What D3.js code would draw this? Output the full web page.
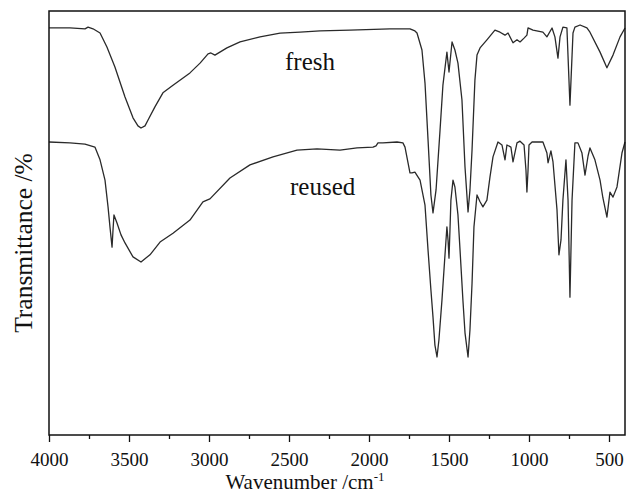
<!DOCTYPE html>
<html>
<head>
<meta charset="utf-8">
<script src="https://cdn.jsdelivr.net/npm/d3@7"></script>
<style>
  body { margin: 0; background: #fff; }
  svg text { font-family: "Liberation Serif", "Times New Roman", serif; fill: #111; }
</style>
</head>
<body>
<div id="chart"></div>
<script>
// wavenumbers (cm-1) and transmittance (arbitrary %)
const freshWn = [4000, 3869, 3775, 3756, 3725, 3681, 3638, 3588, 3525, 3475, 3444, 3425, 3400, 3381, 3338, 3288, 3225, 3119, 3056, 3006, 2988, 2963, 2888, 2806, 2681, 2556, 2431, 2306, 2119, 1869, 1744, 1713, 1700, 1669, 1650, 1631, 1613, 1600, 1581, 1556, 1538, 1513, 1500, 1481, 1463, 1444, 1419, 1400, 1381, 1369, 1356, 1338, 1325, 1306, 1263, 1213, 1181, 1150, 1131, 1100, 1075, 1056, 1031, 1013, 1006, 975, 913, 888, 856, 838, 819, 806, 788, 763, 744, 725, 713, 681, 638, 619, 556, 513, 475, 431, 400];
const freshT = [96.0, 96.0, 95.8, 96.2, 95.8, 94.8, 91.5, 86.8, 79.7, 74.8, 72.9, 72.4, 72.9, 74.3, 77.4, 80.7, 82.5, 85.4, 87.7, 89.9, 90.1, 89.6, 91.3, 92.7, 93.9, 94.8, 95.0, 95.3, 95.5, 95.8, 95.8, 95.3, 94.8, 90.8, 83.0, 69.6, 56.6, 52.4, 57.8, 71.9, 82.5, 90.3, 85.6, 92.7, 90.8, 87.7, 79.0, 63.2, 52.6, 57.8, 67.2, 83.7, 89.6, 91.3, 93.2, 95.5, 95.0, 94.3, 94.8, 92.5, 93.2, 92.7, 93.6, 94.3, 96.0, 95.5, 95.0, 93.9, 96.0, 93.9, 88.9, 93.9, 96.2, 96.0, 77.8, 94.8, 96.2, 96.7, 96.0, 95.0, 90.3, 86.6, 89.6, 93.9, 96.0];

const reusedWn = [4000, 3869, 3775, 3713, 3681, 3650, 3631, 3619, 3606, 3600, 3594, 3575, 3550, 3525, 3475, 3425, 3369, 3306, 3225, 3119, 3038, 3013, 2994, 2869, 2744, 2600, 2450, 2325, 2181, 2075, 1975, 1956, 1944, 1913, 1825, 1788, 1775, 1756, 1744, 1731, 1713, 1681, 1650, 1631, 1613, 1600, 1588, 1575, 1563, 1544, 1525, 1513, 1506, 1500, 1494, 1488, 1475, 1463, 1444, 1431, 1413, 1400, 1381, 1369, 1356, 1344, 1325, 1306, 1288, 1263, 1244, 1225, 1194, 1169, 1150, 1138, 1113, 1100, 1075, 1056, 1031, 1019, 1013, 1006, 1000, 981, 913, 888, 881, 863, 850, 825, 813, 800, 788, 769, 756, 744, 731, 713, 694, 669, 650, 631, 619, 588, 556, 538, 513, 494, 475, 450, 419, 400];
const reusedT = [69.1, 68.9, 68.6, 67.9, 64.9, 60.1, 53.8, 49.1, 44.3, 48.3, 51.9, 50.0, 47.2, 45.3, 42.0, 40.8, 42.5, 45.5, 47.6, 50.7, 55.0, 55.4, 55.7, 60.6, 63.7, 65.6, 67.2, 67.5, 67.2, 67.7, 67.9, 68.2, 68.9, 68.9, 69.1, 68.9, 67.9, 64.2, 61.8, 61.8, 62.0, 60.1, 54.2, 43.6, 34.2, 27.8, 21.2, 18.4, 22.4, 31.8, 42.5, 49.1, 46.0, 41.7, 48.3, 55.4, 60.1, 58.5, 51.9, 43.6, 31.8, 24.1, 18.4, 24.8, 35.8, 49.1, 56.6, 55.0, 53.8, 55.4, 60.8, 65.6, 69.1, 68.4, 64.9, 68.4, 67.9, 64.4, 68.9, 69.3, 68.4, 62.5, 57.3, 62.5, 68.4, 69.1, 69.1, 66.5, 64.2, 67.0, 64.4, 53.1, 42.5, 46.0, 55.4, 64.9, 55.4, 32.5, 55.4, 68.9, 68.9, 66.5, 61.3, 65.8, 67.7, 64.9, 60.1, 55.9, 51.4, 57.3, 56.1, 58.5, 66.5, 69.1];

const xTicks = [4000, 3500, 3000, 2500, 2000, 1500, 1000, 500];
const minorTicks = [3750, 3250, 2750, 2250, 1750, 1250, 750];

const W = 627, H = 495;
const margin = { top: 11, right: 2, bottom: 60, left: 49 };

const svg = d3.select("#chart")
  .append("svg")
  .attr("width", W)
  .attr("height", H);

const x = d3.scaleLinear()
  .domain([4000, 400])
  .range([margin.left, W - margin.right]);

const y = d3.scaleLinear()
  .domain([0, 100])
  .range([H - margin.bottom, margin.top]);

const line = d3.line()
  .x(d => x(d[0]))
  .y(d => y(d[1]));

const fresh = d3.zip(freshWn, freshT);
const reused = d3.zip(reusedWn, reusedT);

[fresh, reused].forEach(data => {
  svg.append("path")
    .datum(data)
    .attr("fill", "none")
    .attr("stroke", "#2a2a2a")
    .attr("stroke-width", 1.3)
    .attr("stroke-linejoin", "round")
    .attr("d", line);
});

// frame
svg.append("rect")
  .attr("x", x(4000))
  .attr("y", y(100))
  .attr("width", x(400) - x(4000))
  .attr("height", y(0) - y(100))
  .attr("fill", "none")
  .attr("stroke", "#111")
  .attr("stroke-width", 1.5);

// bottom axis
const axis = svg.append("g")
  .attr("transform", `translate(0,${y(0)})`)
  .call(d3.axisBottom(x).tickValues(xTicks).tickSize(7).tickPadding(11).tickFormat(d3.format("d")));
axis.select(".domain").remove();
axis.selectAll("line").attr("stroke", "#111").attr("stroke-width", 1.3);
axis.selectAll("text").attr("font-size", 19).style("font-family", "Liberation Serif, serif");

svg.append("g")
  .attr("transform", `translate(0,${y(0)})`)
  .call(d3.axisBottom(x).tickValues(minorTicks).tickSize(4).tickFormat(""))
  .call(g => g.select(".domain").remove())
  .selectAll("line").attr("stroke", "#111").attr("stroke-width", 1.3);

// axis titles
const xt = svg.append("text")
  .attr("x", 305)
  .attr("y", 489)
  .attr("text-anchor", "middle")
  .attr("font-size", 21)
  .text("Wavenumber /cm");
xt.append("tspan").attr("dy", -8).attr("font-size", 13).text("-1");

svg.append("text")
  .attr("transform", "translate(32,243) rotate(-90)")
  .attr("text-anchor", "middle")
  .attr("font-size", 25.5)
  .text("Transmittance /%");

// curve labels
svg.append("text")
  .attr("x", 285)
  .attr("y", 70)
  .attr("font-size", 25)
  .text("fresh");

svg.append("text")
  .attr("x", 290)
  .attr("y", 195)
  .attr("font-size", 25)
  .text("reused");
</script>
</body>
</html>
